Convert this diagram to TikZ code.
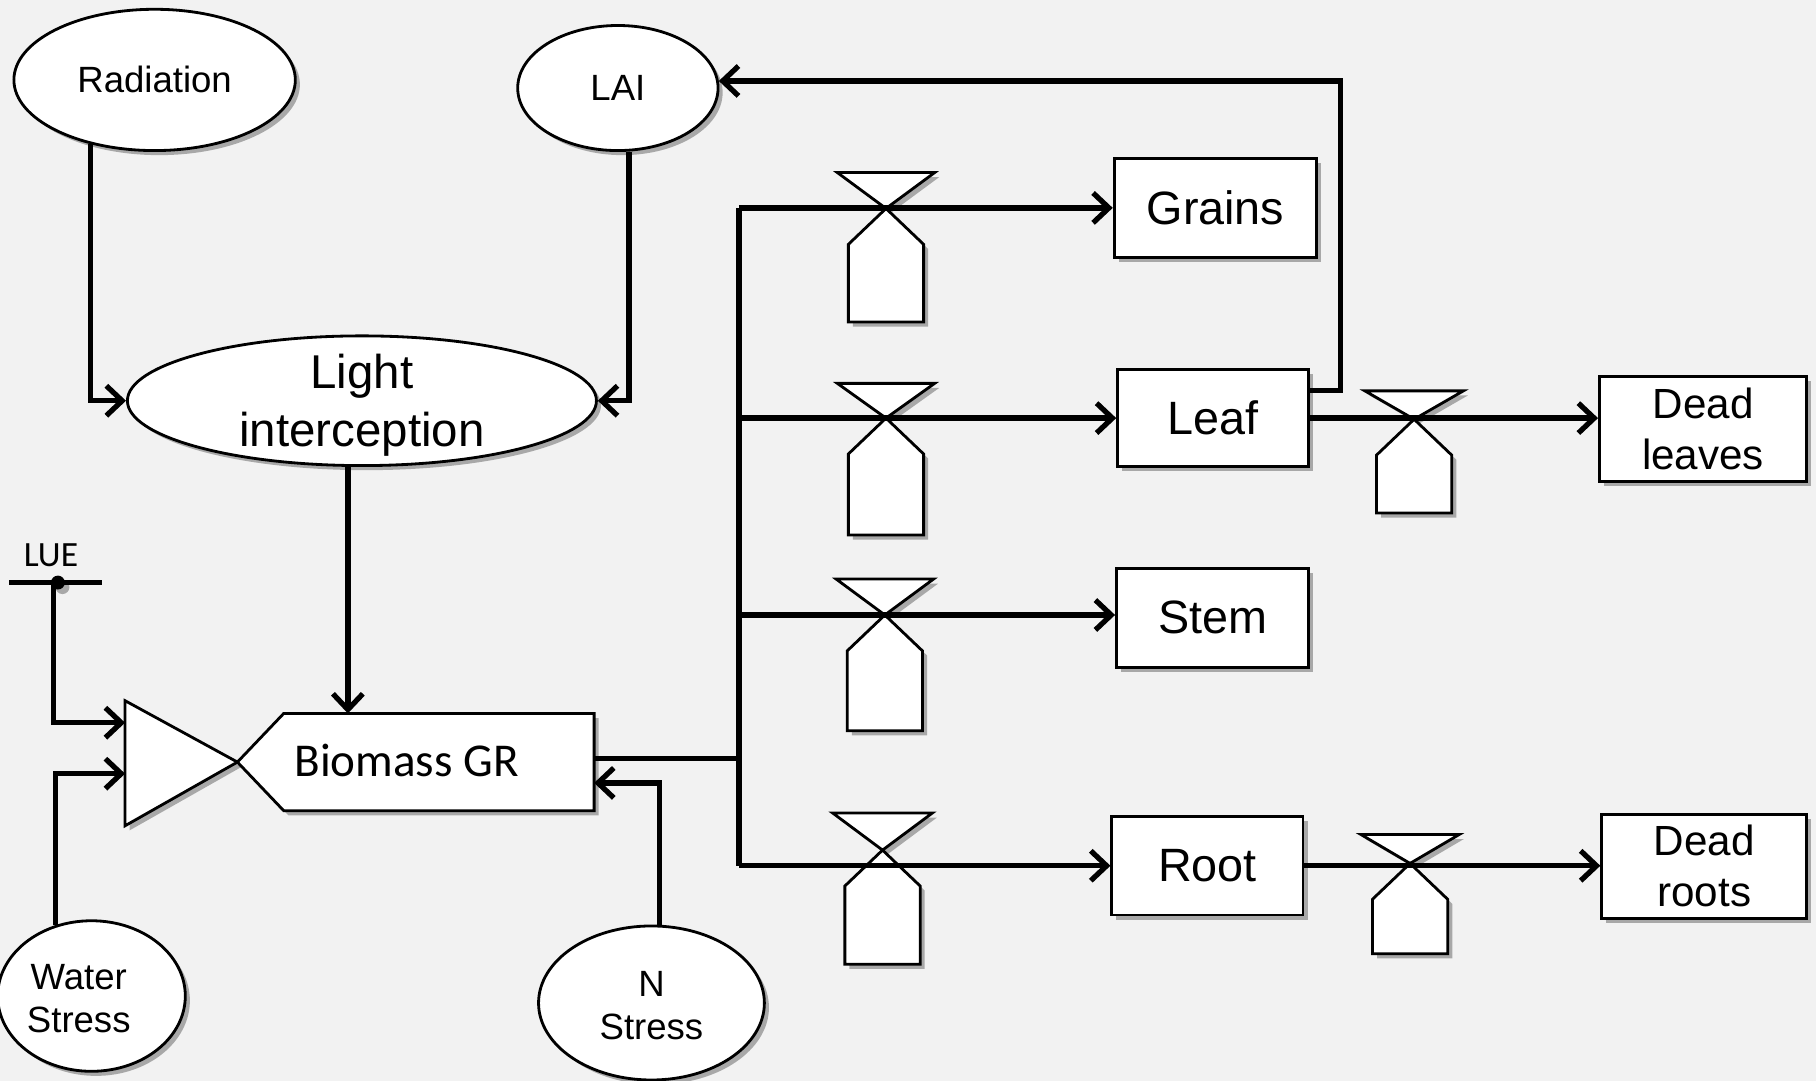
\documentclass[tikz,border=0pt]{standalone}
\usepackage{fontspec}
\setmainfont{Liberation Sans}
\newfontfamily\calibrifont{Carlito}
\usetikzlibrary{arrows.meta,shapes.geometric,shadows}
% one drawing unit in points
\newcommand\unitpx{0.3295pt}
\definecolor{bg}{HTML}{F2F2F2}
\tikzset{
  softshadow/.style={drop shadow={shadow xshift=1.3pt,shadow yshift=-1.3pt,opacity=0.3,fill=black}},
  stock/.style={rectangle, draw, line width=0.8pt, fill=white, softshadow, inner sep=0pt,
    align=center, font=\fontsize{13.3}{16}\selectfont},
  deadstock/.style={stock, font=\fontsize{12}{14.5}\selectfont},
  aux/.style={ellipse, draw, line width=0.8pt, fill=white, softshadow, inner sep=0pt},
  auxtext/.style={align=center, font=\fontsize{10.4}{12.2}\selectfont},
  flow/.style={line width=1.5pt},
  arr/.style={flow, -{Straight Barb[length=4.5pt,width=8.5pt,line width=1.5pt]}},
  valveshape/.style={draw, line width=0.8pt, fill=white, softshadow, line join=miter},
}
% flow valve: cross point (#1,#2), top offset #3, bottom offset #4, top half width #5
\newcommand\flowvalve[5]{%
  \filldraw[valveshape] ({#1-#5},{#2-#3}) -- ({#1+#5},{#2-#3}) -- (#1,#2) -- cycle;
  \filldraw[valveshape] (#1,#2) -- ({#1-32.5},{#2+31}) -- ({#1-32.5},{#2+#4})
     -- ({#1+32.5},{#2+#4}) -- ({#1+32.5},{#2+31}) -- cycle;
}
\begin{document}
\begin{tikzpicture}[x=0.11582mm, y=-0.11582mm]
  \fill[bg] (0,0) rectangle (1568,933);
  \useasboundingbox (0,0) rectangle (1568,933);

  % auxiliary variables
  \node[aux, minimum width=243*\unitpx, minimum height=122*\unitpx,
        label={[auxtext]center:Radiation}] (rad) at (133.5,69) {};
  \node[aux, minimum width=173*\unitpx, minimum height=108*\unitpx,
        label={[auxtext]center:LAI}] (lai) at (533.5,76) {};
  \node[aux, minimum width=405*\unitpx, minimum height=112*\unitpx,
        label={[auxtext, font=\fontsize{13.5}{16.5}\selectfont, yshift=-4*\unitpx]center:Light\\interception}]
        (light) at (312.5,346) {};
  \node[aux, minimum width=162*\unitpx, minimum height=130*\unitpx,
        label={[auxtext, xshift=-11*\unitpx, yshift=-2*\unitpx]center:Water\\Stress}] (water) at (79,860) {};
  \node[aux, minimum width=195*\unitpx, minimum height=133*\unitpx,
        label={[auxtext, yshift=-2*\unitpx]center:N\\Stress}] (nst) at (562.5,866) {};

  % multiplier and biomass growth rate
  \filldraw[valveshape] (108,605) -- (205,658) -- (108,713) -- cycle;
  \filldraw[valveshape] (205,658) -- (245,616) -- (513,616) -- (513,700) -- (245,700) -- cycle;
  \node[font=\calibrifont\fontsize{13.4}{16}\selectfont] (bio) at (351,657) {Biomass GR};
  \coordinate (bioTop) at (300,616);
  \coordinate (bioOut) at (513,655);
  \coordinate (bioIn) at (513,676);
  \coordinate (triA) at (108,624);
  \coordinate (triB) at (108,668);

  % light use efficiency constant
  \draw[flow] (8,503) -- (88,503);
  \node[circle, fill=black, inner sep=0pt, minimum size=12*\unitpx, softshadow] (lue) at (50,503) {};
  \node[font=\calibrifont\fontsize{10.1}{12}\selectfont] (luetext) at (44,479) {LUE};

  % stocks
  \node[stock, minimum width=175*\unitpx, minimum height=85*\unitpx] (grains) at (1049.5,179.5) {Grains};
  \node[stock, minimum width=165*\unitpx, minimum height=84*\unitpx] (leaf) at (1047.5,361) {Leaf};
  \node[stock, minimum width=166*\unitpx, minimum height=85*\unitpx] (stem) at (1047,533.5) {Stem};
  \node[stock, minimum width=165*\unitpx, minimum height=85*\unitpx] (root) at (1042.5,747.5) {Root};
  \node[deadstock, minimum width=179*\unitpx, minimum height=91*\unitpx] (deadl) at (1470.5,370.5) {Dead\\leaves};
  \node[deadstock, minimum width=177*\unitpx, minimum height=90*\unitpx] (deadr) at (1471.5,748) {Dead\\roots};

  % valves on the flows
  \flowvalve{765}{180}{31}{98}{42}
  \flowvalve{765}{361}{30}{101}{42}
  \flowvalve{764}{531}{31}{100}{42}
  \flowvalve{762}{734}{32}{98.5}{43}
  \flowvalve{1221}{362}{24.5}{81}{42.5}
  \flowvalve{1217.5}{745.5}{25}{78}{42.5}

  % information links
  \draw[arr] (rad.225) |- (light.west);
  \draw[arr] (lai.280) |- (light.east);
  \draw[arr] (light.258) -- (light.258 |- bioTop);
  \draw[arr] (lue.center) ++(-4,0) |- (triA);
  \draw[arr] (water.117) |- (triB);
  \draw[arr] (nst.84) |- (bioIn);
  \draw[arr] (leaf.east) ++(0,-24) -- ++(26,0) |- (lai.4);

  % allocation flows
  \coordinate (bus) at (638,655);
  \draw[flow] (bioOut) -- (bus);
  \draw[flow] (bus |- grains.west) -- (bus |- root.west);
  \draw[arr] (bus |- grains.west) -- (grains.west);
  \draw[arr] (bus |- leaf.west) -- (leaf.west);
  \draw[arr] ([yshift=2.5*\unitpx]bus |- stem.west) -- ([yshift=2.5*\unitpx]stem.west);
  \draw[arr] (bus |- root.west) -- (root.west);

  % senescence flows
  \draw[arr] (leaf.east) -- (leaf.east -| deadl.west);
  \draw[arr] (root.east) -- (root.east -| deadr.west);
\end{tikzpicture}
\end{document}
